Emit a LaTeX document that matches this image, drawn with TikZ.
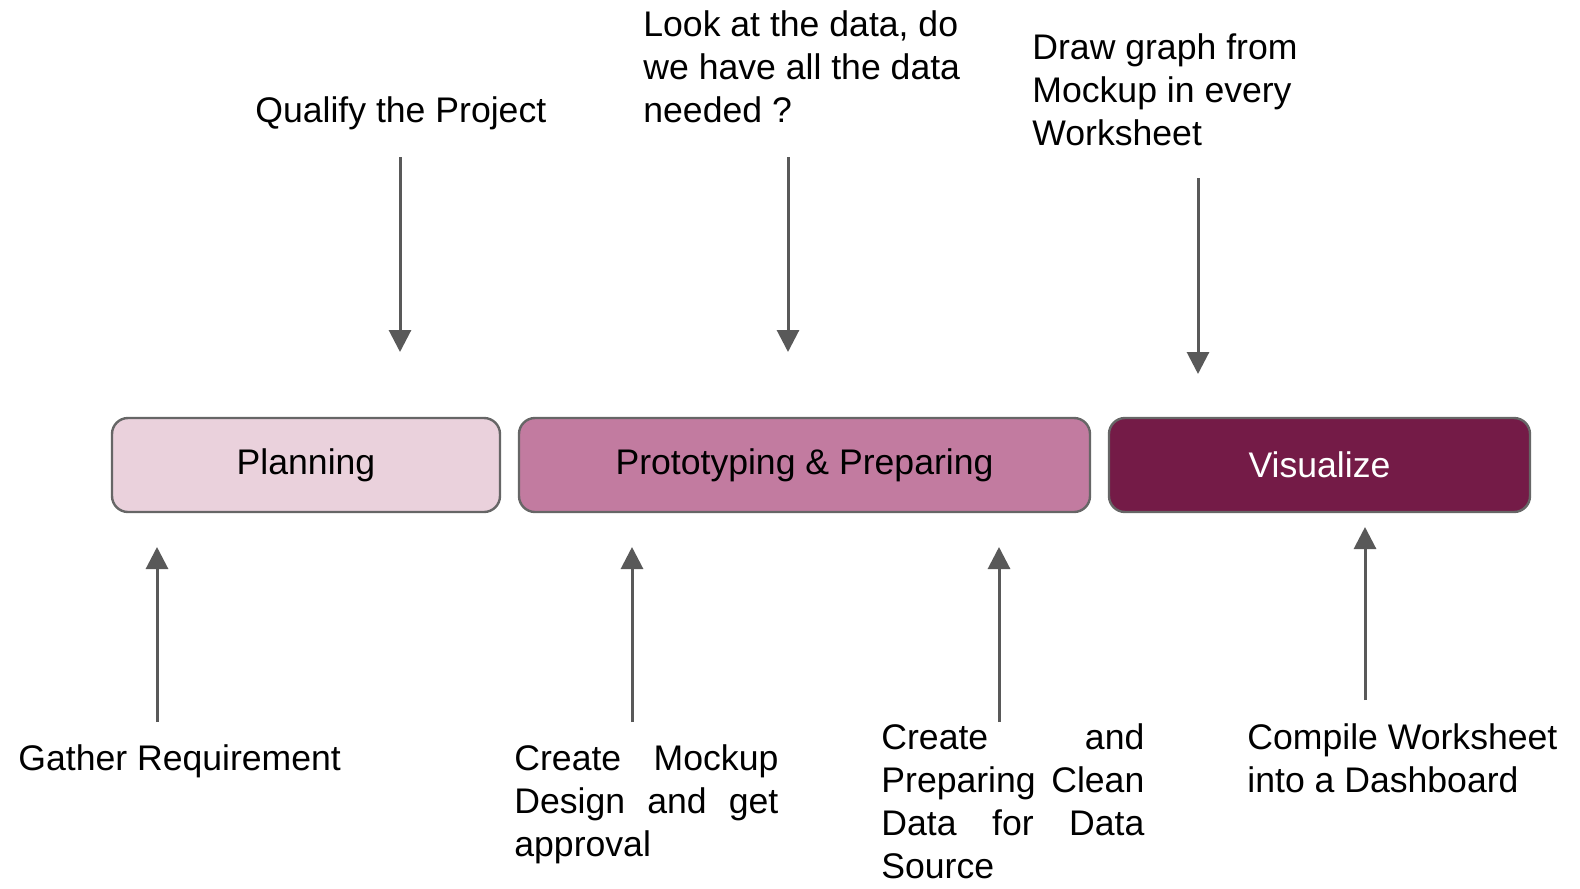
\documentclass[tikz,border=0pt]{standalone}
\usepackage{fontspec}
\setmainfont{Liberation Sans}
\usetikzlibrary{arrows.meta}
\definecolor{planfill}{HTML}{EAD1DC}
\definecolor{protofill}{HTML}{C27BA0}
\definecolor{visfill}{HTML}{741B47}
\definecolor{edgegray}{HTML}{666666}
\definecolor{arrowgray}{HTML}{595959}
\newcommand{\fsz}{\fontsize{17.8pt}{21.5pt}\selectfont}
\begin{document}
\begin{tikzpicture}[x=0.5pt,y=-0.5pt,
  stage/.style={draw=edgegray, line width=1.2pt, rounded corners=8pt, minimum height=47pt, inner sep=0pt, font=\fsz},
  lbl/.style={anchor=base west, inner sep=0pt, font=\fsz, text=black},
  flow/.style={draw=arrowgray, line width=1.5pt, -{Triangle[length=11pt,width=11pt]}}]
\useasboundingbox (0,0) rectangle (1580,889);
% stages
\node[stage, fill=planfill, minimum width=194pt] (plan) at (306,465) {Planning};
\node[stage, fill=protofill, minimum width=285.5pt] (proto) at (804.5,465) {Prototyping \& Preparing};
\node[stage, fill=visfill, minimum width=210.5pt, text=white] (vis) at (1319.5,465) {Visualize};
% top labels
\node[lbl] (qual) at (255,122) {Qualify the Project};
\node[lbl] (look) at (643,36) {\parbox[t]{165pt}{\fsz Look at the data, do\\we have all the data\\needed ?}};
\node[lbl] (draw) at (1032,59) {\parbox[t]{150pt}{\fsz Draw graph from\\Mockup in every\\Worksheet}};
% bottom labels
\node[lbl] (gath) at (18,770) {Gather Requirement};
\node[lbl] (mock) at (514,770) {\parbox[t]{132pt}{\fsz\noindent\makebox[132pt][s]{Create Mockup}\\\makebox[132pt][s]{Design and get}\\approval}};
\node[lbl] (clean) at (881,749) {\parbox[t]{131.5pt}{\fsz\noindent\makebox[131.5pt][s]{Create and}\\\makebox[131.5pt][s]{Preparing Clean}\\\makebox[131.5pt][s]{Data for Data}\\Source}};
\node[lbl] (comp) at (1247,749) {\parbox[t]{158pt}{\fsz Compile Worksheet\\into a Dashboard}};
% arrow end points
\coordinate (qs) at (400,157); \coordinate (qe) at (400,352);
\coordinate (ls) at (788,157); \coordinate (le) at (788,352);
\coordinate (ds) at (1198,178); \coordinate (de) at (1198,374);
\coordinate (gs) at (157,722); \coordinate (ge) at (157,547);
\coordinate (ms) at (632,722); \coordinate (me) at (632,547);
\coordinate (cs) at (999,722); \coordinate (ce) at (999,547);
\coordinate (ps) at (1365,700); \coordinate (pe) at (1365,527);
\draw[flow] (qs) -- (qe);
\draw[flow] (ls) -- (le);
\draw[flow] (ds) -- (de);
\draw[flow] (gs) -- (ge);
\draw[flow] (ms) -- (me);
\draw[flow] (cs) -- (ce);
\draw[flow] (ps) -- (pe);
\end{tikzpicture}
\end{document}
